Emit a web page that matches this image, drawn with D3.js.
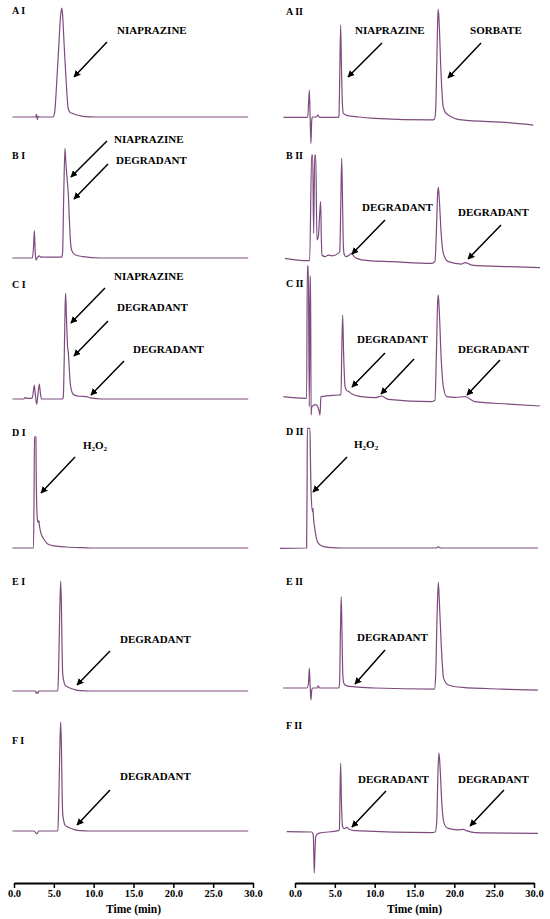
<!DOCTYPE html>
<html><head><meta charset="utf-8">
<script src="https://cdn.jsdelivr.net/npm/d3@7"></script>
<style>body{margin:0;background:#fff}</style>
</head><body>
<svg id="c" width="550" height="919"></svg>
<script>
// ---------------- DATA ----------------
const timeTicks = [0, 5, 10, 15, 20, 25, 30];
const axisTitle = "Time (min)";

// traces: [time (min), relative signal]
const traceAI = [[-0.2,0],[2.7,0],[2.82,2.5],[2.92,-2.5],[3.02,0.5],[3.2,0],[4.9,0],[5.1,4],[5.35,30],[5.6,62],[5.85,92],[5.99,99],[6.08,95],[6.3,65],[6.55,32],[6.8,8],[7.0,4.5],[7.3,3.4],[7.8,2],[8.5,0.8],[9.5,0.2],[11,0],[29.4,0]];
const traceBI = [[-0.2,0],[2.3,0],[2.45,10],[2.55,25],[2.65,8],[2.75,-2],[2.9,0],[3.2,2],[3.35,0.8],[6.0,0.8],[6.1,5],[6.25,60],[6.4,99.7],[6.5,88],[6.69,70],[6.81,59],[6.95,35],[7.1,14],[7.24,7],[7.66,3],[8.66,1.2],[10.8,0],[29.4,0]];
const traceCI = [[-0.2,0],[1.2,0],[1.4,1.2],[1.8,0.5],[2.3,1],[2.45,8],[2.55,12.7],[2.65,6],[2.85,-4.8],[3.0,4],[3.18,13.6],[3.3,6],[3.47,0],[6.1,0],[6.19,2],[6.3,35],[6.42,85],[6.48,96],[6.58,75],[6.72,48],[6.82,42],[6.92,30],[7.05,15],[7.3,6],[7.6,3.5],[8.2,2.5],[9.1,2.2],[9.6,1],[11,0],[29.4,0]];
const traceDI = [[-0.2,0],[2.45,0],[2.52,50],[2.57,101],[2.75,101],[2.8,60],[2.88,32],[2.98,24],[3.08,23],[3.12,25],[3.2,20],[3.4,13],[3.68,8.8],[4.1,4.5],[4.52,2.7],[5.5,1.5],[6.6,0.9],[8.7,0.3],[10,0],[29.4,0]];
const traceEI = [[-0.2,0],[2.7,0],[2.8,-2],[2.9,-1],[3.0,-2],[3.1,0],[5.5,0],[5.6,20],[5.75,75],[5.86,100],[5.95,78],[6.03,40],[6.11,16],[6.25,9],[6.4,5.5],[6.7,3.8],[7.0,2.7],[7.5,1.5],[8.3,0.3],[9.5,0],[29.4,0]];
const traceFI = [[-0.2,0],[2.5,0],[2.7,-1.5],[2.9,-2.5],[3.1,0],[5.5,0],[5.6,20],[5.75,75],[5.86,99],[5.95,78],[6.03,40],[6.11,16],[6.25,9],[6.4,5.5],[6.7,3.8],[7.0,2.7],[7.5,1.5],[8.3,0.3],[9.5,0],[29.4,0]];
const traceAII = [[-1.46,-0.3],[1.46,-0.3],[1.6,0],[1.8,24.5],[1.9,0],[2.0,-24],[2.1,-3],[2.18,0],[2.7,0],[2.85,1.8],[3.1,-0.3],[5.44,-0.3],[5.52,1],[5.62,40],[5.73,83.6],[5.82,50],[5.95,12],[6.07,3.3],[6.5,1.5],[8,0],[10.04,-1.2],[17.15,-2.7],[17.5,-2],[17.65,5],[17.8,50],[17.93,92],[17.99,97.9],[18.1,85],[18.3,45],[18.6,9.4],[18.9,4],[19.24,1.8],[20.9,-2.7],[26.8,-5.2],[29.9,-7.3]];
const traceBII = [[-1.26,-0.3],[1.46,-2.4],[1.84,-2.4],[2.09,93.6],[2.22,93.6],[2.34,22.4],[2.47,93.6],[2.6,93.6],[2.76,16.4],[2.93,19.4],[3.1,40],[3.22,51.2],[3.3,20],[3.39,2.7],[3.77,1.2],[4.18,2.7],[4.6,2],[5.44,4.2],[5.62,6],[5.75,50],[5.86,90.6],[5.96,55],[6.05,15],[6.15,4.2],[6.36,1.2],[6.8,2.5],[7.11,4.2],[7.4,1.5],[7.74,-0.3],[9.2,-2.4],[12.13,-3.3],[17.15,-4.8],[17.57,-3],[17.75,25],[17.9,58],[17.99,64.2],[18.1,55],[18.35,22],[18.62,4.2],[19.24,-3.3],[20.92,-5.5],[21.34,-4.2],[22.18,-6.4],[26.8,-7.9],[30.75,-8.8]];
const traceCII = [[-1.46,0.3],[1.26,-1.2],[1.46,-1.2],[1.55,119],[1.67,119],[1.8,-8.8],[1.88,110],[1.95,110],[2.02,-16.4],[2.1,-9],[2.6,-7],[3.0,-12],[3.14,-16.4],[3.25,0.3],[5.44,1.8],[5.77,2],[5.88,45],[5.98,74.5],[6.1,40],[6.28,9.4],[6.5,6],[6.78,4.8],[7.1,3],[8.37,0.3],[10.04,-0.6],[10.88,0.9],[11.7,-2.1],[17.15,-4.2],[17.57,-3],[17.75,40],[17.9,85],[17.99,92.7],[18.1,80],[18.35,35],[18.62,9.4],[19.04,0.3],[20.08,-0.3],[21.34,0.3],[22.6,-4.2],[26.8,-6.4],[30.75,-8.2]];
const traceDII = [[-1.88,-0.3],[1.46,0],[1.52,60],[1.55,108.8],[1.88,108.8],[1.95,75],[2.05,45],[2.2,33],[2.26,36],[2.3,30],[2.51,16.4],[2.93,4.2],[3.5,1.5],[4.18,0.6],[6,0],[17.7,0],[17.99,1],[18.3,0],[30.5,0]];
const traceEII = [[-1.5,0],[1.5,0],[1.7,5],[1.8,18],[1.9,2],[2.0,-11],[2.1,-2],[2.2,0],[2.8,0],[2.9,2],[3.1,0],[5.5,0],[5.6,5],[5.7,50],[5.8,83],[5.9,50],[6.0,12],[6.15,4],[6.5,2],[7.5,1],[10,0],[17.5,-1],[17.65,10],[17.85,70],[17.99,96],[18.1,82],[18.35,40],[18.65,9],[19.2,3],[21,0.5],[26,-1],[30.5,-2]];
const traceFII = [[-1.04,0.3],[2.09,0],[2.3,-3],[2.42,-37.3],[2.5,-20],[2.6,-4.2],[2.93,-1.2],[5.44,1.2],[5.57,2],[5.65,35],[5.73,62.4],[5.82,30],[5.98,4.8],[6.2,3],[6.49,4.2],[6.8,2.5],[7.53,1.2],[17.15,-0.6],[17.6,0],[17.78,8],[17.95,55],[18.07,72],[18.2,60],[18.4,30],[18.62,10.9],[18.9,5],[19.24,3.3],[20.4,2],[21.13,2.4],[21.6,1],[22.6,-0.6],[30.5,-1.2]];

const panelLabels = ["A I","B I","C I","D I","E I","F I","A II","B II","C II","D II","E II","F II"];

// annotations: label at (time, signal); arrows tail (t,v) -> head (t,v)
const annTexts = [
  ["A I","NIAPRAZINE",12.93,75.5],
  ["B I","NIAPRAZINE",12.55,104.5],["B I","DEGRADANT",12.8,85.5],
  ["C I","NIAPRAZINE",12.55,108.2],["C I","DEGRADANT",12.93,80],["C I","DEGRADANT",14.94,41.8],
  ["D I","H2O2",8.66,90],
  ["E I","DEGRADANT",13.3,43.6],
  ["F I","DEGRADANT",13.3,46.4],
  ["A II","NIAPRAZINE",7.53,75.5],["A II","SORBATE",21.97,75.5],
  ["B II","DEGRADANT",8.41,42.7],["B II","DEGRADANT",20.46,38.2],
  ["C II","DEGRADANT",7.78,49.1],["C II","DEGRADANT",20.46,40],
  ["D II","H2O2",7.41,90.9],
  ["E II","DEGRADANT",7.78,42.7],
  ["F II","DEGRADANT",7.91,44.5],["F II","DEGRADANT",20.46,44.5]
];
const annArrows = [
  ["A I",11.67,68.2,7.53,36.4],
  ["B I",11.67,106.4,7.15,73.6],["B I",11.8,85.5,7.53,53.6],
  ["C I",11.42,100.9,7.15,69.1],["C I",11.8,70.9,7.53,39.1],["C I",13.81,34.5,9.66,3.6],
  ["D I",7.66,82.7,3.39,50],
  ["E I",12.05,36.4,7.91,5.5],
  ["F I",12.05,37.3,7.91,5.5],
  ["A II",10.92,67.3,6.65,36.4],["A II",23.35,67.3,19.2,35.5],
  ["B II",11.3,34.5,7.15,3.6],["B II",25.86,30,21.72,-0.9],
  ["C II",11.3,40,7.15,9.1],["C II",14.94,34.5,10.79,2.7],["C II",25.73,33.6,21.59,1.8],
  ["D II",6.53,82.7,2.26,50.9],
  ["E II",11.3,34.5,7.53,3.6],
  ["F II",11.42,37.3,7.15,4.5],["F II",26.23,38.2,21.97,5.5]
];

// ---------------- LAYOUT ----------------
const traces = {"A I":traceAI,"B I":traceBI,"C I":traceCI,"D I":traceDI,"E I":traceEI,"F I":traceFI,
  "A II":traceAII,"B II":traceBII,"C II":traceCII,"D II":traceDII,"E II":traceEII,"F II":traceFII};
const baseL = [117,258,399,548,691,831], baseR = [117,258,397,548,688,832];
const labYL = [14,159,288,436,585,744], labYR = [15,159,287,435,585,729];
const axisY = 883;
const xScales = [d3.scaleLinear().domain([0,30]).range([14,253]), d3.scaleLinear().domain([0,30]).range([295,534])];
const FONT = "'Liberation Serif','Times New Roman',serif";
const LINE = "#7d4c7f";

const svg = d3.select("#c");
const defs = svg.append("defs");
defs.append("marker").attr("id","ah").attr("viewBox","0 0 10 10").attr("refX",9).attr("refY",5)
  .attr("markerWidth",7).attr("markerHeight",7).attr("markerUnits","userSpaceOnUse").attr("orient","auto")
  .append("path").attr("d","M0,0L10,5L0,10z").attr("fill","#000");

const panelInfo = {};
panelLabels.forEach(name => {
  const [row, col] = name.split(" ");
  const r = "ABCDEF".indexOf(row), c = col === "I" ? 0 : 1;
  const b = c === 0 ? baseL[r] : baseR[r];
  const y = d3.scaleLinear().domain([0,100]).range([b, b-110]);
  panelInfo[name] = {x: xScales[c], y, r, c};
});

// traces
Object.entries(traces).forEach(([name, data]) => {
  const {x, y} = panelInfo[name];
  const line = d3.line().x(d => x(d[0])).y(d => y(d[1])).curve(d3.curveMonotoneX);
  svg.append("path").datum(data).attr("d", line).attr("fill","none")
    .attr("stroke", LINE).attr("stroke-width", 1.2).attr("stroke-linejoin","round");
});

// panel labels
panelLabels.forEach(name => {
  const {r, c} = panelInfo[name];
  svg.append("text").attr("x", c === 0 ? 12 : 286).attr("y", c === 0 ? labYL[r] : labYR[r])
    .attr("font-family", FONT).attr("font-weight","bold").attr("font-size", 10).text(name);
});

// annotation texts
annTexts.forEach(([name, txt, t, v]) => {
  const {x, y} = panelInfo[name];
  const el = svg.append("text").attr("x", x(t)).attr("y", y(v))
    .attr("font-family", FONT).attr("font-weight","bold").attr("font-size", 11);
  if (txt === "H2O2") {
    el.append("tspan").text("H");
    el.append("tspan").attr("font-size",7).attr("dy",2).text("2");
    el.append("tspan").attr("dy",-2).text("O");
    el.append("tspan").attr("font-size",7).attr("dy",2).text("2");
  } else el.text(txt);
});

// arrows
annArrows.forEach(([name, t0, v0, t1, v1]) => {
  const {x, y} = panelInfo[name];
  svg.append("line").attr("x1", x(t0)).attr("y1", y(v0)).attr("x2", x(t1)).attr("y2", y(v1))
    .attr("stroke","#000").attr("stroke-width",1.5).attr("marker-end","url(#ah)");
});

// axes
xScales.forEach((xs, i) => {
  const g = svg.append("g").attr("transform", `translate(0,${axisY})`)
    .call(d3.axisBottom(xs).tickValues(timeTicks).tickFormat(d3.format(".1f")).tickSize(5).tickSizeOuter(0));
  g.select(".domain").attr("stroke","#000").attr("stroke-width",2);
  g.selectAll(".tick line").attr("stroke","#000").attr("stroke-width",1.5);
  g.selectAll(".tick text").attr("font-family", FONT).attr("font-weight","bold").attr("font-size",10.5).attr("fill","#000").attr("y",7);
  svg.append("text").attr("x", (xs.range()[0]+xs.range()[1])/2).attr("y", 913).attr("text-anchor","middle")
    .attr("font-family", FONT).attr("font-weight","bold").attr("font-size", 11.5).text(axisTitle);
});
</script>
</body></html>
